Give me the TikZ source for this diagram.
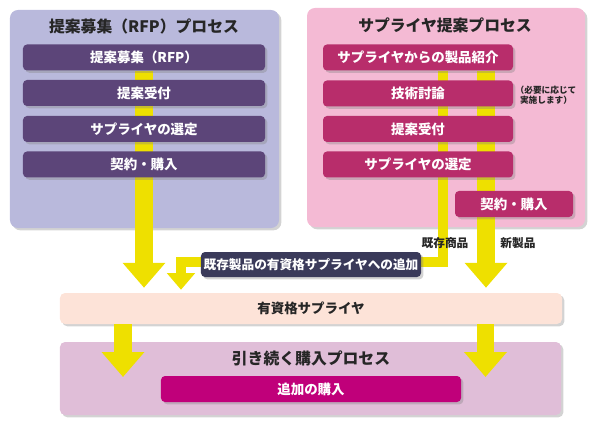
\documentclass[tikz,border=0pt]{standalone}
\usepackage{fontspec}
\setmainfont{Noto Sans CJK JP}
\usetikzlibrary{arrows.meta, shadows}
\pgfdeclarelayer{back}
\pgfdeclarelayer{mid}
\pgfsetlayers{back,mid,main}
\definecolor{rfpbg}{HTML}{B9B9DC}
\definecolor{rfpbox}{HTML}{5C4579}
\definecolor{supbg}{HTML}{F4BAD4}
\definecolor{supbox}{HTML}{B82D6B}
\definecolor{flow}{HTML}{EEE000}
\definecolor{addbox}{HTML}{3A3A5A}
\definecolor{qualbg}{HTML}{FDE3D8}
\definecolor{nextbg}{HTML}{E0BED8}
\definecolor{buybox}{HTML}{C0007A}
\tikzstyle{shade} = [drop shadow={shadow xshift=0.07cm, shadow yshift=-0.07cm, opacity=0.35}]
\tikzstyle{panel} = [rectangle, rounded corners=0.24cm, inner sep=0pt, shade]
\tikzstyle{stepbox} = [rectangle, rounded corners=0.12cm, minimum height=0.78cm, inner sep=0pt, text=white, font=\bfseries\fontsize{11.5}{13}\selectfont, shade]
\tikzstyle{title} = [text=black!85, font=\bfseries\fontsize{13.5}{16}\selectfont]
\tikzstyle{small} = [text=black!85, font=\bfseries\fontsize{10}{12}\selectfont]
\tikzstyle{flowline} = [draw=flow, line width=0.52cm, -{Triangle[width=1.24cm,length=0.75cm]}]
\tikzstyle{flowthin} = [draw=flow, line width=0.31cm]
\tikzstyle{flowsmall} = [draw=flow, line width=0.31cm, -{Triangle[width=0.82cm,length=0.5cm]}]

\begin{document}
\begin{tikzpicture}[x=0.03cm, y=-0.03cm]
  \useasboundingbox (0,0) rectangle (600,432);

  % panels
  \begin{pgfonlayer}{back}
    \node[panel, fill=rfpbg, minimum width=8.07cm, minimum height=6.54cm] (rfp) at (144.5,119) {};
    \node[panel, fill=supbg, minimum width=8.34cm, minimum height=6.57cm] (sup) at (446,117.5) {};
    \node[panel, fill=qualbg, rounded corners=0.15cm, minimum width=15.06cm, minimum height=0.93cm, font=\bfseries\fontsize{11.5}{13}\selectfont, text=black!85] (qual) at (311,308.5) {有資格サプライヤ};
    \node[panel, fill=nextbg, rounded corners=0.15cm, minimum width=15.03cm, minimum height=2.19cm] (next) at (310.5,378.5) {};
  \end{pgfonlayer}

  \node[title] (rfptitle) at (144,26) {提案募集（RFP）プロセス};
  \node[title] (suptitle) at (445,25) {サプライヤ提案プロセス};
  \node[title] (nexttitle) at (311,358) {引き続く購入プロセス};

  % RFP steps
  \node[stepbox, fill=rfpbox, minimum width=7.26cm] (rb1) at (144,57.5) {提案募集（RFP）};
  \node[stepbox, fill=rfpbox, minimum width=7.26cm] (rb2) at (144,93) {提案受付};
  \node[stepbox, fill=rfpbox, minimum width=7.26cm] (rb3) at (144,129) {サプライヤの選定};
  \node[stepbox, fill=rfpbox, minimum width=7.26cm] (rb4) at (144,164.5) {契約・購入};

  % supplier steps
  \node[stepbox, fill=supbox, minimum width=5.7cm] (sb1) at (418,57.5) {サプライヤからの製品紹介};
  \node[stepbox, fill=supbox, minimum width=5.7cm] (sb2) at (418,93.5) {技術討論};
  \node[stepbox, fill=supbox, minimum width=5.7cm] (sb3) at (418,129) {提案受付};
  \node[stepbox, fill=supbox, minimum width=5.7cm] (sb4) at (418,164.5) {サプライヤの選定};
  \node[stepbox, fill=supbox, minimum width=3.54cm] (sb5) at (514,204) {契約・購入};
  \node[text=black!85, font=\bfseries\fontsize{7.4}{8.6}\selectfont, align=center, inner sep=0pt] (note) at (546,95) {（必要に応じて\\実施します）};

  \node[stepbox, fill=addbox, minimum width=6.6cm, minimum height=0.75cm, font=\bfseries\fontsize{10.8}{13}\selectfont] (add) at (311,264.5) {既存製品の有資格サプライヤへの追加};
  \node[small] (exist) at (445,243) {既存商品};
  \node[small] (newp) at (518,243) {新製品};

  \node[stepbox, fill=buybox, minimum width=9cm] (buy) at (311,389) {追加の購入};

  % flows
  \coordinate (bend) at (443,262);
  \coordinate (back) at (181,262);
  \coordinate (newx) at (486,0);
  \coordinate (lq) at (123,377);
  \coordinate (rq) at (485.5,377);
  \begin{pgfonlayer}{mid}
    \draw[flowline, shorten >=0.15cm] (rb1.south) -- (rb1.south |- qual.north);
    \draw[flowthin] (sb1.south -| bend) -- (bend) -- (add.east |- bend);
    \draw[flowline, shorten >=0.15cm] (sb1.south -| newx) -- (newx |- qual.north);
    \draw[flowsmall, shorten >=0.09cm] (add.west |- back) -- (back) -- (back |- qual.north);
    \draw[flowline] (qual.south -| lq) -- (lq);
    \draw[flowline] (qual.south -| rq) -- (rq);
  \end{pgfonlayer}
\end{tikzpicture}
\end{document}
